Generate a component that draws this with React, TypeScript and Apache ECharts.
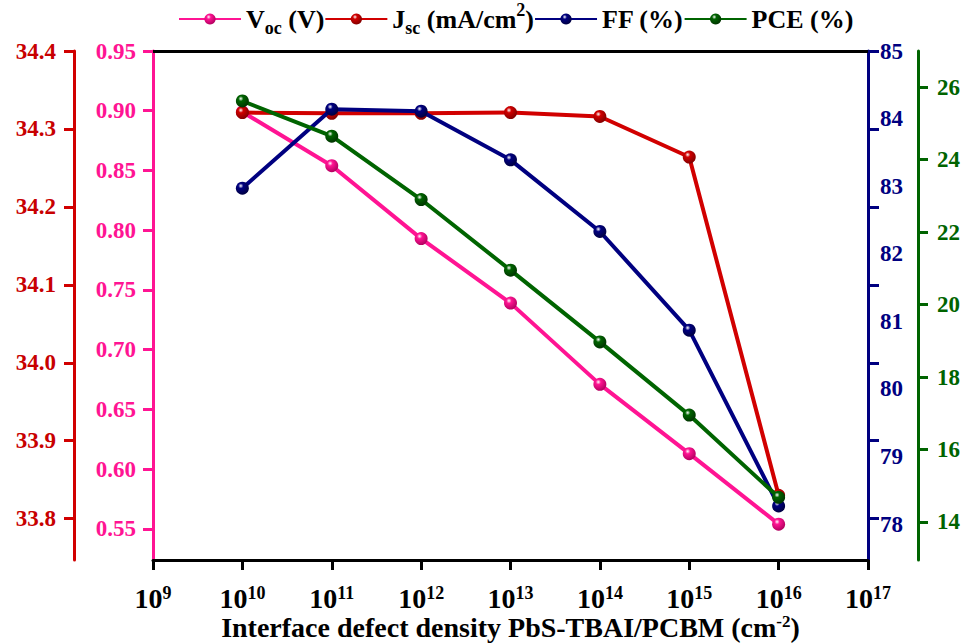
import React, { useEffect, useRef } from "react";
import * as echarts from "echarts";

const DENSITY = [1e10, 1e11, 1e12, 1e13, 1e14, 1e15, 1e16];
const VOC = [0.899, 0.854, 0.793, 0.739, 0.671, 0.613, 0.554];
const JSC = [34.321, 34.32, 34.32, 34.321, 34.316, 34.264, 33.83];
const FF = [82.97, 84.14, 84.11, 83.39, 82.33, 80.87, 78.27];
const PCE = [25.62, 24.65, 22.9, 20.95, 18.97, 16.95, 14.68];

const VOC_TICKS = [0.55, 0.6, 0.65, 0.7, 0.75, 0.8, 0.85, 0.9, 0.95];
const JSC_TICKS = [33.8, 33.9, 34.0, 34.1, 34.2, 34.3, 34.4];
const FF_LABELS = [78, 79, 80, 81, 82, 83, 84, 85];
const PCE_TICKS = [14, 16, 18, 20, 22, 24, 26];

const FONT = "'Liberation Serif', 'Times New Roman', serif";
const PINK = "#FF1493";
const RED = "#D10000";
const NAVY = "#000080";
const GREEN = "#006400";

function ball(base: string, dark: string) {
  return new echarts.graphic.RadialGradient(0.38, 0.32, 0.7, [
    { offset: 0, color: "#ffffff" },
    { offset: 0.28, color: base },
    { offset: 1, color: dark },
  ]);
}

const LEGEND_TEXT: Record<string, string> = {
  Voc: "{n|V}{sub|oc}{n| (V)}",
  Jsc: "{n|J}{sub|sc}{n| (mA/cm}{sup|2}{n|)}",
  FF: "{n|FF (%)}",
  PCE: "{n|PCE (%)}",
};

export default function App() {
  const ref = useRef<HTMLDivElement>(null);
  useEffect(() => {
    if (!ref.current) return;
    const chart = echarts.init(ref.current, null, { renderer: "svg", width: 965, height: 643 });
    const pair = (ys: number[]) => DENSITY.map((x, i) => [x, ys[i]]);
    const labelBase = { fontFamily: FONT, fontWeight: "bold" as const, fontSize: 23 };

    const mk = (
      name: string,
      data: number[],
      yAxisIndex: number,
      color: string,
      dark: string,
      z: number
    ) => ({
      name,
      type: "line",
      xAxisIndex: 0,
      yAxisIndex,
      data: pair(data),
      symbol: "circle",
      symbolSize: 13,
      z,
      lineStyle: { color, width: 4 },
      itemStyle: { color: ball(color, dark), borderWidth: 0 },
    });

    chart.setOption({
      animation: false,
      backgroundColor: "#ffffff",
      grid: {
        left: 153,
        right: 97,
        top: 51,
        bottom: 83,
        containLabel: false,
        outerBoundsMode: "none",
      },
      legend: {
        top: 1,
        left: 178,
        padding: 0,
        itemWidth: 62,
        itemHeight: 14,
        itemGap: 0,
        data: ["Voc", "Jsc", "FF", "PCE"],
        formatter: (name: string) => LEGEND_TEXT[name],
        textStyle: {
          fontFamily: FONT,
          fontWeight: "bold",
          color: "#000",
          rich: {
            n: { fontFamily: FONT, fontWeight: "bold", fontSize: 26, lineHeight: 36, color: "#000" },
            sub: { fontFamily: FONT, fontWeight: "bold", fontSize: 18, lineHeight: 18, verticalAlign: "bottom", color: "#000" },
            sup: { fontFamily: FONT, fontWeight: "bold", fontSize: 18, lineHeight: 18, verticalAlign: "top", color: "#000" },
          },
        },
      },
      xAxis: [
        {
          type: "log",
          logBase: 10,
          min: 1e9,
          max: 1e17,
          position: "bottom",
          axisLine: { show: true, lineStyle: { color: "#000", width: 3 } },
          axisTick: { show: true, inside: false, length: 10, lineStyle: { color: "#000", width: 3 } },
          splitLine: { show: false },
          minorTick: { show: false },
          axisLabel: {
            margin: 24,
            formatter: (v: number) => `{b|10}{s|${Math.round(Math.log10(v))}}`,
            rich: {
              b: { fontFamily: FONT, fontWeight: "bold", fontSize: 28, lineHeight: 28, color: "#000" },
              s: { fontFamily: FONT, fontWeight: "bold", fontSize: 18, lineHeight: 14, verticalAlign: "top", color: "#000" },
            },
          },
          name: "Interface defect density PbS-TBAI/PCBM (cm{sup|-2})",
          nameLocation: "middle",
          nameGap: 53,
          nameMoveOverlap: false,
          nameTextStyle: {
            fontFamily: FONT,
            fontWeight: "bold",
            fontSize: 28,
            lineHeight: 28,
            color: "#000",
            rich: {
              sup: { fontFamily: FONT, fontWeight: "bold", fontSize: 17, lineHeight: 14, verticalAlign: "top", color: "#000" },
            },
          },
        },
        {
          type: "log",
          logBase: 10,
          min: 1e9,
          max: 1e17,
          position: "top",
          axisLine: { show: true, lineStyle: { color: "#000", width: 3 } },
          axisTick: { show: false },
          axisLabel: { show: false },
          splitLine: { show: false },
        },
      ],
      yAxis: [
        {
          type: "value",
          position: "left",
          offset: 0,
          min: 0.524,
          max: 0.95,
          axisLine: { show: true, lineStyle: { color: PINK, width: 3 } },
          axisTick: { show: true, inside: false, length: 10, customValues: VOC_TICKS, lineStyle: { color: PINK, width: 3 } },
          axisLabel: { ...labelBase, color: PINK, margin: 17, customValues: VOC_TICKS, formatter: (v: number) => v.toFixed(2) },
          splitLine: { show: false },
        },
        {
          type: "value",
          position: "left",
          offset: 79,
          min: 33.747,
          max: 34.4,
          axisLine: { show: true, lineStyle: { color: RED, width: 3 } },
          axisTick: { show: true, inside: false, length: 10, customValues: JSC_TICKS, lineStyle: { color: RED, width: 3 } },
          axisLabel: { ...labelBase, color: "#C80000", margin: 18, customValues: JSC_TICKS, formatter: (v: number) => v.toFixed(1) },
          splitLine: { show: false },
        },
        {
          type: "value",
          position: "right",
          offset: 0,
          min: 77.47,
          max: 85,
          axisLine: { show: true, lineStyle: { color: NAVY, width: 3 } },
          axisTick: { show: false },
          axisLabel: { ...labelBase, color: NAVY, margin: 12, customValues: FF_LABELS, formatter: (v: number) => String(v) },
          splitLine: { show: false },
        },
        {
          type: "value",
          position: "right",
          offset: 0,
          min: 33.747,
          max: 34.4,
          axisLine: { show: false },
          axisTick: { show: true, inside: false, length: 11, customValues: JSC_TICKS, lineStyle: { color: NAVY, width: 3 } },
          axisLabel: { show: false },
          splitLine: { show: false },
        },
        {
          type: "value",
          position: "right",
          offset: 50,
          min: 12.95,
          max: 27.0,
          axisLine: { show: true, lineStyle: { color: GREEN, width: 3 } },
          axisTick: { show: true, inside: false, length: 10, customValues: PCE_TICKS, lineStyle: { color: GREEN, width: 3 } },
          axisLabel: { ...labelBase, color: GREEN, margin: 19, customValues: PCE_TICKS, formatter: (v: number) => String(v) },
          splitLine: { show: false },
        },
      ],
      series: [
        mk("Voc", VOC, 0, PINK, "#B0005E", 2),
        mk("Jsc", JSC, 1, RED, "#800000", 3),
        mk("FF", FF, 2, NAVY, "#000040", 4),
        mk("PCE", PCE, 4, GREEN, "#003300", 5),
      ],
    });
    return () => chart.dispose();
  }, []);
  return (
    <div
      ref={ref}
      style={{ position: "absolute", left: 0, top: 0, width: 965, height: 643, overflow: "hidden" }}
    />
  );
}
